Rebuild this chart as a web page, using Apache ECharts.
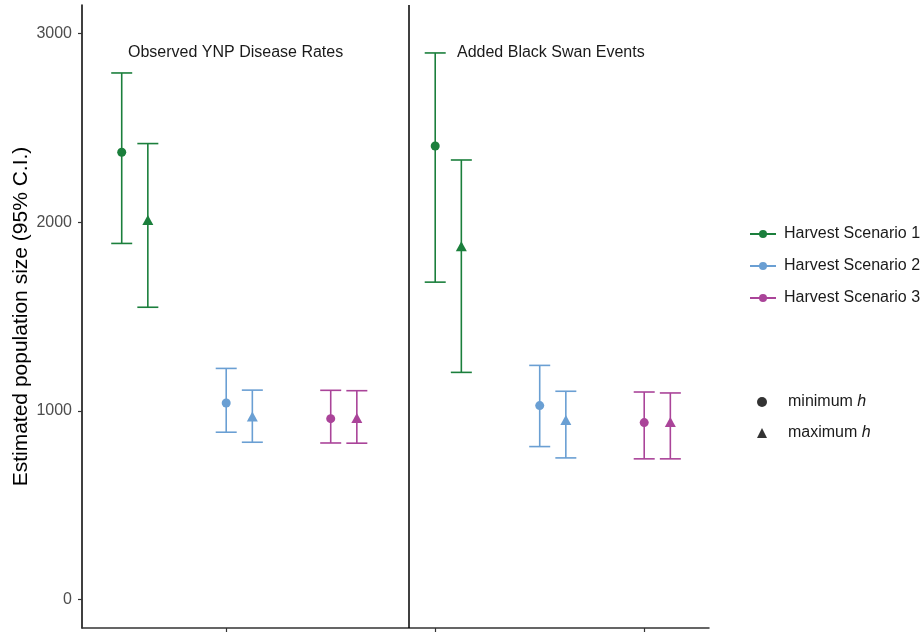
<!DOCTYPE html>
<html>
<head>
<meta charset="utf-8">
<script src="https://cdn.jsdelivr.net/npm/echarts@6/dist/echarts.min.js"></script>
<style>html,body{margin:0;padding:0;background:#fff;}#chart{width:924px;height:632px;}</style>
</head>
<body>
<div id="chart"></div>
<script>
// ---- data ----
const panels = ['Observed YNP Disease Rates', 'Added Black Swan Events'];
const scenarios = ['Harvest Scenario 1', 'Harvest Scenario 2', 'Harvest Scenario 3'];
const shapeNames = ['minimum h', 'maximum h'];
// [panel][scenario]
const minMean  = [[2370, 1042, 959], [2403, 1028, 938]];
const minLower = [[1887, 887, 830], [1682, 811, 746]];
const minUpper = [[2790, 1225, 1109], [2896, 1241, 1100]];
const maxMean  = [[2011, 970, 962], [1872, 952, 941]];
const maxLower = [[1549, 834, 829], [1204, 751, 746]];
const maxUpper = [[2416, 1110, 1107], [2329, 1104, 1095]];
const yTicks = [0, 1000, 2000, 3000];
const xTicks = [2, 4, 6];

// ---- styles ----
const colors = ['#1b7f3c', '#6a9fd3', '#aa4499'];
const FONT = 'Liberation Sans, Arial, sans-serif';
const DODGE = 0.25;
const CAP = 10.5;

const series = [];
scenarios.forEach((name, s) => {
  const bars = [];
  const pts = [];
  panels.forEach((pn, p) => {
    const x = p * 3 + s + 1;
    bars.push([x, minLower[p][s], minUpper[p][s]]);
    bars.push([x + DODGE, maxLower[p][s], maxUpper[p][s]]);
    pts.push({value: [x, minMean[p][s]], symbol: 'circle', symbolSize: 9});
    pts.push({value: [x + DODGE, maxMean[p][s]], symbol: 'triangle', symbolSize: [11, 10]});
  });
  series.push({
    name: name + ' CI',
    type: 'custom',
    silent: true,
    data: bars,
    renderItem: function (params, api) {
      const top = api.coord([api.value(0), api.value(2)]);
      const bot = api.coord([api.value(0), api.value(1)]);
      const st = {stroke: colors[s], lineWidth: 1.6, fill: null};
      return {
        type: 'group',
        children: [
          {type: 'line', shape: {x1: top[0], y1: top[1], x2: bot[0], y2: bot[1]}, style: st},
          {type: 'line', shape: {x1: top[0] - CAP, y1: top[1], x2: top[0] + CAP, y2: top[1]}, style: st},
          {type: 'line', shape: {x1: bot[0] - CAP, y1: bot[1], x2: bot[0] + CAP, y2: bot[1]}, style: st}
        ]
      };
    },
    z: 2
  });
  series.push({
    name: name + ' pts',
    type: 'scatter',
    silent: true,
    data: pts,
    itemStyle: {color: colors[s], opacity: 1},
    z: 3
  });
  // legend-only series
  series.push({
    name: name,
    type: 'line',
    data: [],
    symbol: 'circle',
    symbolSize: 8,
    itemStyle: {color: colors[s]},
    lineStyle: {color: colors[s], width: 1.6}
  });
});
shapeNames.forEach((n, i) => {
  series.push({
    name: n,
    type: 'scatter',
    data: [],
    symbol: i === 0 ? 'circle' : 'triangle',
    itemStyle: {color: '#000'}
  });
});
// panel divider
series.push({
  name: 'divider',
  type: 'scatter',
  data: [],
  markLine: {
    silent: true,
    symbol: 'none',
    label: {show: false},
    lineStyle: {color: '#000', width: 1.5, type: 'solid'},
    data: [{xAxis: 3.75}]
  }
});

const chart = echarts.init(document.getElementById('chart'));
chart.setOption({
  animation: false,
  backgroundColor: '#fff',
  textStyle: {fontFamily: FONT},
  title: panels.map((t, i) => ({
    text: t,
    left: i === 0 ? 128 : 457,
    top: 45,
    padding: 0,
    textStyle: {fontSize: 16, fontWeight: 'normal', color: '#1a1a1a', fontFamily: FONT}
  })),
  grid: {left: 82, right: 215, top: 5, bottom: 4, containLabel: false, outerBoundsMode: 'none'},
  xAxis: {
    type: 'value',
    min: 0.62,
    max: 6.62,
    splitLine: {show: false},
    axisLine: {show: true, onZero: false, lineStyle: {color: '#333', width: 1.5}},
    axisTick: {show: true, customValues: xTicks, length: 4, lineStyle: {color: '#333', width: 1.2}},
    axisLabel: {show: false}
  },
  yAxis: {
    type: 'value',
    min: -150,
    max: 3150,
    name: 'Estimated population size (95% C.I.)',
    nameLocation: 'middle',
    nameRotate: 90,
    nameGap: 50,
    nameMoveOverlap: false,
    nameTextStyle: {fontSize: 21, color: '#000', fontFamily: FONT},
    splitLine: {show: false},
    axisLine: {show: true, onZero: false, lineStyle: {color: '#000', width: 1.5}},
    axisTick: {show: true, customValues: yTicks, length: 4, lineStyle: {color: '#333', width: 1.2}},
    axisLabel: {customValues: yTicks, formatter: v => String(v), fontSize: 16, color: '#4d4d4d', margin: 10, fontFamily: FONT}
  },
  legend: [
    {
      data: scenarios,
      orient: 'vertical',
      left: 744,
      top: 221,
      itemWidth: 26,
      itemHeight: 10,
      itemGap: 16,
      selectedMode: false,
      textStyle: {fontSize: 16, color: '#1a1a1a', lineHeight: 16, padding: [0, 0, 0, 3], fontFamily: FONT}
    },
    {
      data: shapeNames,
      orient: 'vertical',
      left: 752,
      top: 389,
      itemWidth: 10,
      itemHeight: 10,
      itemGap: 15,
      selectedMode: false,
      formatter: n => '{t|' + n.slice(0, -2) + ' }{i|h}',
      textStyle: {
        fontSize: 16, color: '#1a1a1a', lineHeight: 16, padding: [0, 0, 0, 16], fontFamily: FONT,
        rich: {
          t: {fontSize: 16, color: '#1a1a1a', fontFamily: FONT},
          i: {fontSize: 16, color: '#1a1a1a', fontStyle: 'italic', fontFamily: FONT}
        }
      }
    }
  ],
  series: series
});
</script>
</body>
</html>
